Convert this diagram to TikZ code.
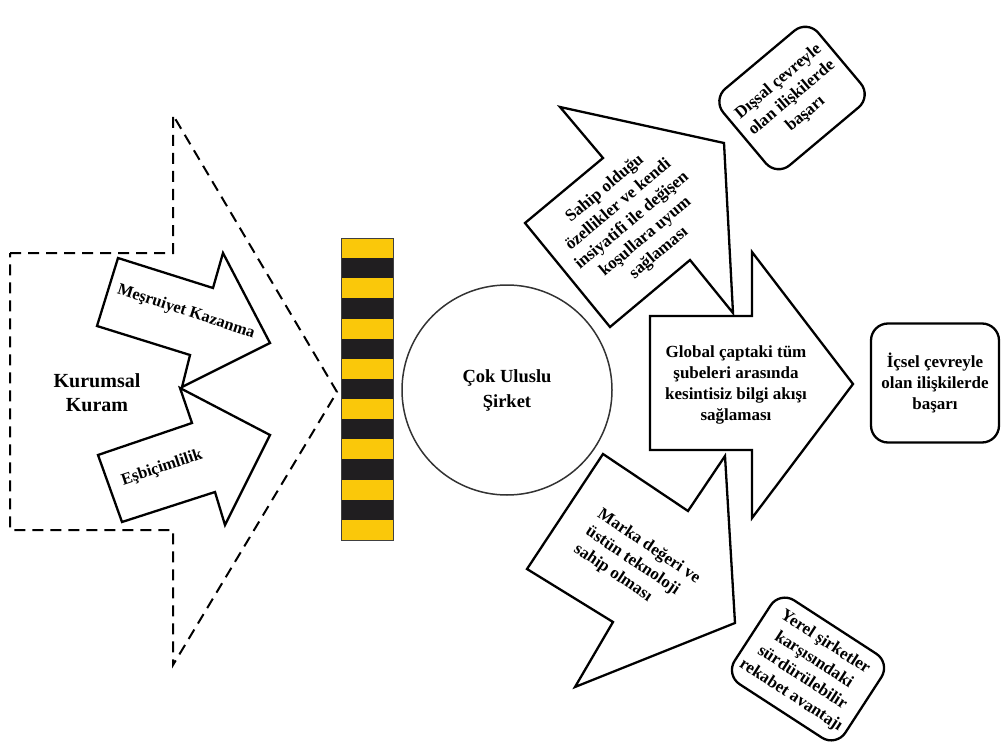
\documentclass[tikz,border=0pt]{standalone}
\usepackage{fontspec}
\setmainfont{Liberation Serif}
\definecolor{baryellow}{RGB}{250,200,10}
\definecolor{barblack}{RGB}{32,30,32}
\begin{document}
\begin{tikzpicture}[x=1pt,y=-1pt,
  txt/.style={font=\bfseries\fontsize{17}{21}\selectfont, align=center, inner sep=0pt},
  smalltxt/.style={font=\bfseries\fontsize{16.5}{20}\selectfont, align=center, inner sep=0pt},
  bigtxt/.style={font=\bfseries\fontsize{20}{24}\selectfont, align=center, inner sep=0pt},
  arrowshape/.style={draw=black, line width=2.3pt, fill=white, line join=miter},
  dashshape/.style={draw=black, line width=2pt, dash pattern=on 11pt off 7pt},
  rbox/.style={draw=black, line width=2.3pt, rounded corners=17pt, fill=white, align=center,
    font=\bfseries\fontsize{17}{21}\selectfont, inner sep=2pt}]
\useasboundingbox (0,0) rectangle (1003,754);

% dashed big arrow (Kurumsal Kuram)
\draw[dashshape] (10,253) -- (173,253) -- (173,115) -- (337,392) -- (173,665) -- (173,530) -- (10,530) -- cycle;
\node[bigtxt] (kk) at (97,393) {Kurumsal\\Kuram};

% small arrows
\draw[arrowshape] (118,258) -- (213,288) -- (223,253) -- (270,343) -- (182,387) -- (190,355) -- (97,326) -- cycle;
\node[smalltxt, rotate=-18] (mk) at (186,312) {Meşruiyet Kazanma};
\draw[arrowshape] (98,455) -- (192,423) -- (180,388) -- (270,435) -- (225,525) -- (215,492) -- (122,522) -- cycle;
\node[smalltxt, rotate=18.5] (eb) at (162,468) {Eşbiçimlilik};

% striped bar
\foreach \i in {0,...,14}{
  \ifodd\i
    \fill[barblack] (341,{238+\i*20.133}) rectangle (393,{238+(\i+1)*20.133});
  \else
    \fill[baryellow] (341,{238+\i*20.133}) rectangle (393,{238+(\i+1)*20.133});
  \fi
}
\node[draw=black!75, line width=1pt, minimum width=52pt, minimum height=302pt, inner sep=0pt] (bar) at (367,389) {};

% circle
\node[draw=black!80, line width=1.5pt, circle, minimum size=210pt, inner sep=0pt, align=center,
  font=\bfseries\fontsize{18.5}{25}\selectfont] (mnc) at (507,390) {Çok Uluslu\\Şirket};

% upper arrow
\draw[arrowshape] (525,223) -- (603,158) -- (560,107) -- (724,143) -- (733,313) -- (690,260) -- (610,327) -- cycle;
\node[txt, rotate=40] (sa) at (632,221) {Sahip olduğu\\özellikler ve kendi\\insiyatifi ile değişen\\koşullara uyum\\sağlaması};

% middle arrow
\draw[arrowshape] (650,316) -- (752,316) -- (752,252) -- (853,384) -- (752,518) -- (752,450) -- (650,450) -- cycle;
\node[txt] (gl) at (736,385) {Global çaptaki tüm\\şubeleri arasında\\kesintisiz bilgi akışı\\sağlaması};

% lower arrow
\draw[arrowshape] (603,454) -- (688,511) -- (725,456) -- (735,623) -- (575,687) -- (613,622) -- (527,569) -- cycle;
\node[txt, rotate=-34, align=left] (ma) at (637,564) {Marka değeri ve\\üstün teknoloji\\sahip olması};

% outcome boxes
\node[rbox, rotate=40, minimum width=124pt, minimum height=100pt] (dis) at (792,98) {Dışsal çevreyle\\olan ilişkilerde\\başarı};
\node[rbox, minimum width=128pt, minimum height=119pt] (ic) at (935,383) {İçsel çevreyle\\olan ilişkilerde\\başarı};
\node[rbox, rotate=-33, minimum width=132pt, minimum height=100pt] (ye) at (808,669) {Yerel şirketler\\karşısındaki\\sürdürülebilir\\rekabet avantajı};
\end{tikzpicture}
\end{document}
